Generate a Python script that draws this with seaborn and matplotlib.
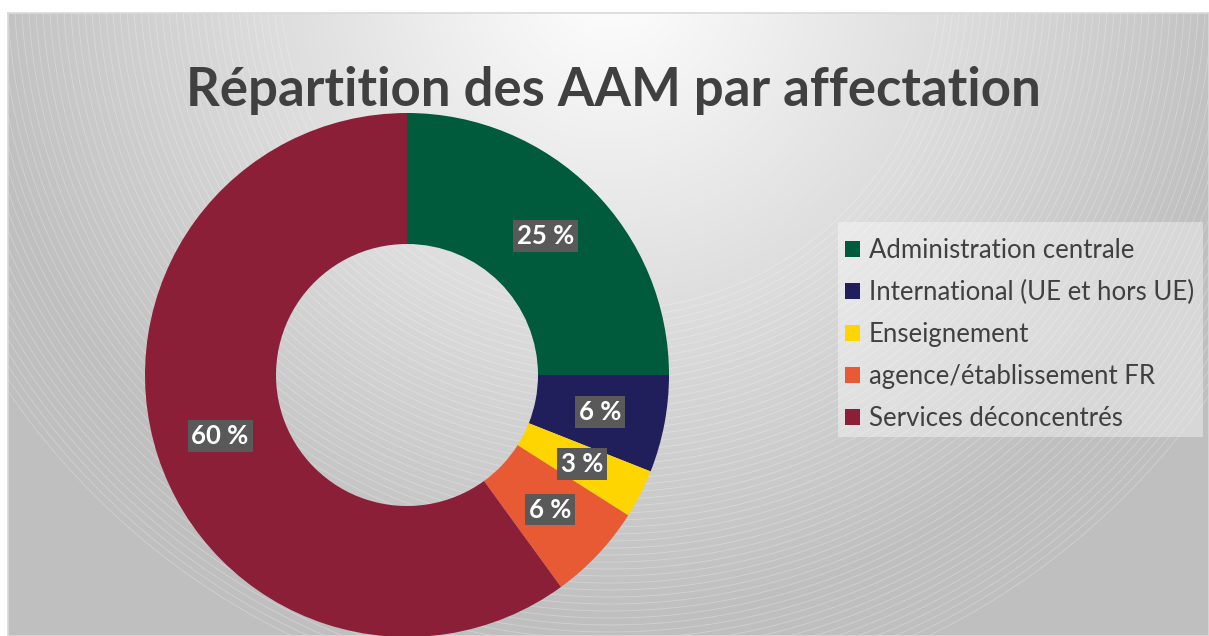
import numpy as np
import matplotlib
matplotlib.use("Agg")
import matplotlib.pyplot as plt
from matplotlib.patches import Rectangle
import seaborn as sns

# données
categories = ["Administration centrale", "International (UE et hors UE)", "Enseignement",
              "agence/établissement FR", "Services déconcentrés"]
valeurs = [25, 6, 3, 6, 60]
couleurs = ["#005a3c", "#201f5c", "#ffd500", "#e85a33", "#8b1f38"]
titre = "Répartition des AAM par affectation"

sns.set_theme(style="white")
plt.rcParams['font.family'] = ['Lato', 'DejaVu Sans']

W, H = 1209, 636
fig = plt.figure(figsize=(W / 100, H / 100), dpi=100)

# fond : dégradé radial + arcs clairs
bg = fig.add_axes([0, 0, 1, 1])
bg.set_axis_off()
cx, cy = 610, -20
yy, xx = np.mgrid[0:H, 0:W]
r = np.hypot(xx - cx, yy - cy)
grey = np.clip(255 - 0.1 * r, 191, 255) / 255
img = np.dstack([grey, grey, grey])
img[:13, :] = 1.0
img[:, :8] = 1.0
bg.imshow(img, extent=(0, W, H, 0), interpolation="bilinear")
theta = np.linspace(0, 2 * np.pi, 720)
for rad in np.arange(330, 730, 7):
    bg.plot(cx + rad * np.cos(theta), cy + rad * np.sin(theta), color="white",
            lw=0.6, alpha=0.28)
bg.plot([8, W, W, 8, 8], [13, 13, H, H, 13], color="#d9d9d9", lw=1.2)
# cadre de la légende
bg.add_patch(Rectangle((838, 222), 365, 215, facecolor="white", alpha=0.38,
                       edgecolor="none"))
bg.set_xlim(0, W)
bg.set_ylim(H, 0)

# anneau
ax = fig.add_axes([145 / W, (H - 375 - 262) / H, 524 / W, 524 / H])
wedges, _, autotexts = ax.pie(
    valeurs, colors=couleurs, startangle=90, counterclock=False,
    wedgeprops=dict(width=0.5, edgecolor="none"),
    autopct=lambda p: f"{p:.0f} %", pctdistance=0.75,
    textprops=dict(color="white", fontweight="bold", fontsize=18.5))
for t in autotexts:
    t.set_bbox(dict(boxstyle="square,pad=0.15", fc="#595959", ec="none"))
ax.set_xlim(-1, 1)
ax.set_ylim(-1, 1)
ax.patch.set_visible(False)

fig.text(613 / W, 1 - 106 / H, titre, ha="center", va="baseline",
         fontsize=38, fontweight="bold", color="#404040")

leg = fig.legend(wedges, categories, loc="upper left",
                 bbox_to_anchor=(845 / W, 1 - 238 / H),
                 fontsize=18.5, frameon=False,
                 handlelength=0.6, handleheight=0.6, handletextpad=0.32,
                 labelspacing=0.66, borderpad=0, borderaxespad=0,
                 labelcolor="#404040")

fig.savefig("out.png", dpi=100)
